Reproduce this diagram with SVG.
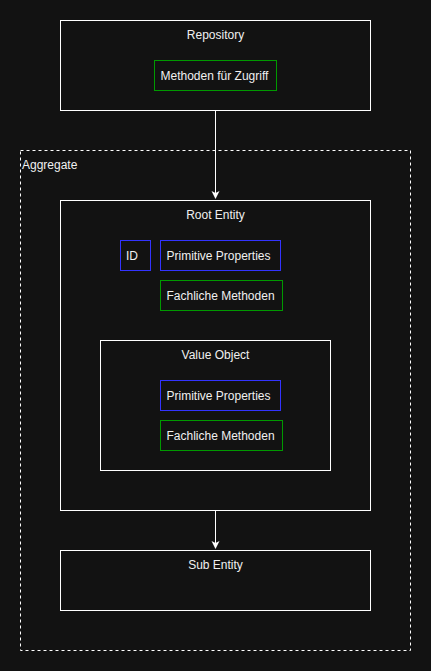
<svg xmlns="http://www.w3.org/2000/svg" width="431" height="671" viewBox="0 0 431 671">
<style>
text{font-family:"Liberation Sans",Arial,Helvetica,sans-serif;font-size:12px;fill:#f0f0f0}
.c{text-anchor:middle}
.box{fill:#121212;stroke:#ffffff;stroke-width:1}
.g{fill:#121212;stroke:#009900;stroke-width:1}
.b{fill:#121212;stroke:#3333ff;stroke-width:1}
.agg{fill:none;stroke:#ffffff;stroke-width:1;stroke-dasharray:3 3}
.edge{stroke:#ffffff;stroke-width:1;fill:none}
</style>
<defs>
<marker id="arr" markerWidth="10" markerHeight="10" refX="7" refY="4" orient="auto" markerUnits="userSpaceOnUse">
<path d="M0,0 L8,4 L0,8 L2,4 Z" fill="#ffffff"/>
</marker>
</defs>
<rect width="431" height="671" fill="#121212"/>
<g id="aggregate">
<rect class="agg" x="20.5" y="150.5" width="390" height="500"/>
<text x="22" y="169">Aggregate</text>
</g>
<g id="repository">
<rect class="box" x="60.5" y="20.5" width="310" height="90"/>
<text class="c" x="215.5" y="39">Repository</text>
</g>
<g id="methoden-zugriff">
<rect class="g" x="154.5" y="60.5" width="122" height="30"/>
<text x="160.5" y="79.5">Methoden für Zugriff</text>
</g>
<g id="root-entity">
<rect class="box" x="60.5" y="200.5" width="310" height="310"/>
<text class="c" x="215.5" y="219">Root Entity</text>
</g>
<g id="id">
<rect class="b" x="120.5" y="240.5" width="30" height="30"/>
<text x="126" y="259.5">ID</text>
</g>
<g id="root-primitive">
<rect class="b" x="160.5" y="240.5" width="120" height="30"/>
<text x="166.5" y="259.5">Primitive Properties</text>
</g>
<g id="root-methoden">
<rect class="g" x="160.5" y="280.5" width="122" height="30"/>
<text x="166.5" y="299.5">Fachliche Methoden</text>
</g>
<g id="value-object">
<rect class="box" x="100.5" y="340.5" width="230" height="130"/>
<text class="c" x="215.5" y="359">Value Object</text>
</g>
<g id="vo-primitive">
<rect class="b" x="160.5" y="380.5" width="120" height="30"/>
<text x="166.5" y="399.5">Primitive Properties</text>
</g>
<g id="vo-methoden">
<rect class="g" x="160.5" y="420.5" width="122" height="30"/>
<text x="166.5" y="439.5">Fachliche Methoden</text>
</g>
<g id="sub-entity">
<rect class="box" x="60.5" y="550.5" width="310" height="60"/>
<text class="c" x="215.5" y="569">Sub Entity</text>
</g>
<g id="connectors">
<path class="edge" d="M215.5,110.5 L215.5,198" marker-end="url(#arr)"/>
<path class="edge" d="M215.5,510.5 L215.5,548" marker-end="url(#arr)"/>
</g>
</svg>
